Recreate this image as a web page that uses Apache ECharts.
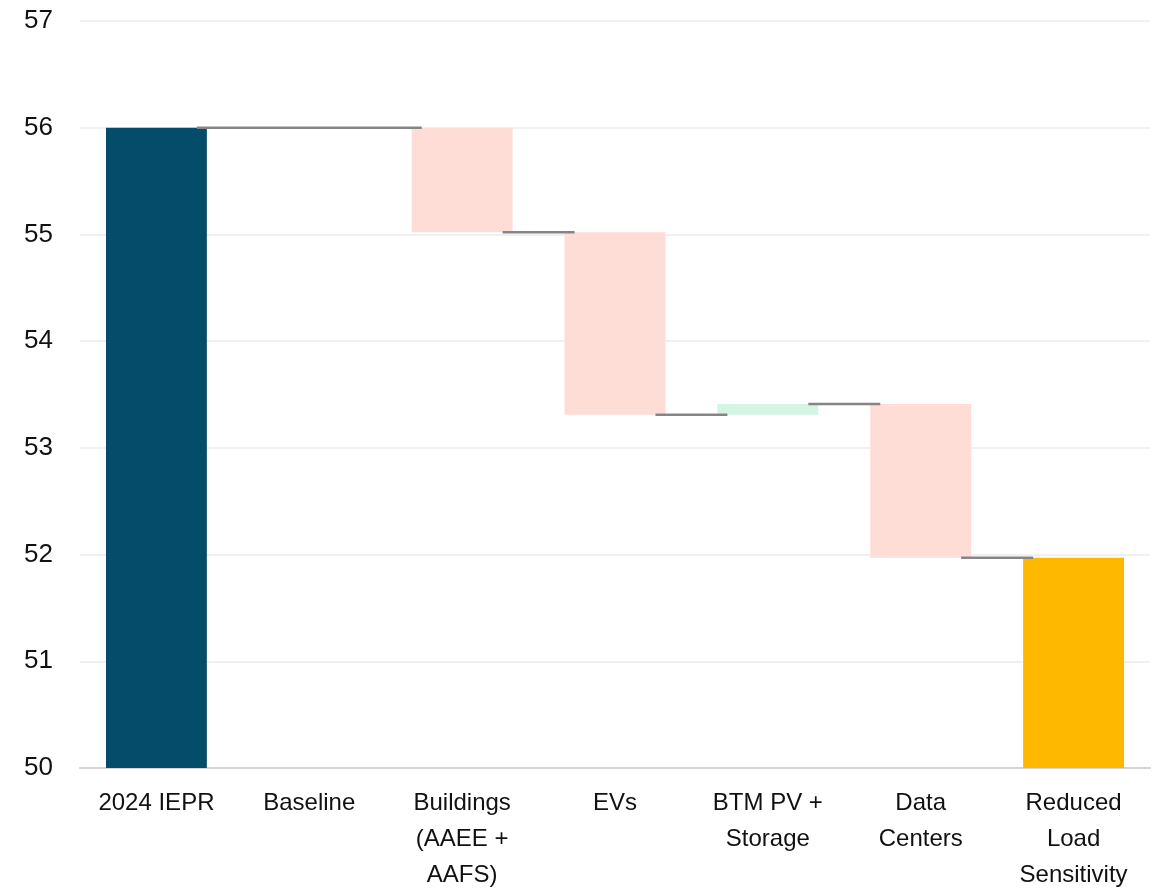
<!DOCTYPE html>
<html>
<head>
<meta charset="utf-8">
<script src="https://cdn.jsdelivr.net/npm/echarts@6/dist/echarts.min.js"></script>
<style>
  html, body { margin: 0; padding: 0; background: #fff; }
  #main { width: 1163px; height: 888px; }
</style>
</head>
<body>
<div id="main"></div>
<script>
// data
var categories = ['2024 IEPR', 'Baseline', 'Buildings\n(AAEE +\nAAFS)', 'EVs', 'BTM PV +\nStorage', 'Data\nCenters', 'Reduced\nLoad\nSensitivity'];
var startTotal = 56.0;
var deltas = [0, -0.98, -1.71, 0.10, -1.44];   // Baseline .. Data Centers
var endTotal = 51.97;
var yTicks = [50, 51, 52, 53, 54, 55, 56, 57];

var totalColors = ['#054c6b', '#ffb800'];
var downColor = '#ffddd7';
var upColor = '#d5f5e3';

// running levels after each category
var levels = [startTotal];
var cur = startTotal;
for (var i = 0; i < deltas.length; i++) {
  cur = Math.round((cur + deltas[i]) * 100) / 100;
  levels.push(cur);
}

var baseData = [0];
var valueData = [{ value: startTotal, itemStyle: { color: totalColors[0] } }];
for (var i = 0; i < deltas.length; i++) {
  var before = levels[i], after = levels[i + 1];
  baseData.push(Math.min(before, after));
  valueData.push({ value: Math.abs(deltas[i]), itemStyle: { color: deltas[i] >= 0 ? upColor : downColor } });
}
baseData.push(0);
valueData.push({ value: endTotal, itemStyle: { color: totalColors[1] } });

// connector lines: [from category, to category, level]; zero steps are passed through
var connData = [];
var from = 0;
for (var i = 1; i < categories.length; i++) {
  var isZero = (i - 1 < deltas.length) && deltas[i - 1] === 0;
  if (isZero) continue;
  connData.push([from, i, levels[from]]);
  from = i;
}

var myChart = echarts.init(document.getElementById('main'));
var option = {
  animation: false,
  grid: { left: 80, right: 13, top: 21, bottom: 120, outerBoundsMode: 'none' },
  xAxis: {
    type: 'category',
    data: categories,
    axisTick: { show: false },
    axisLine: { lineStyle: { color: '#d4d4d4', width: 2 } },
    axisLabel: {
      color: '#111',
      fontSize: 24,
      fontFamily: 'Liberation Sans',
      lineHeight: 36,
      margin: 17,
      interval: 0
    }
  },
  yAxis: {
    type: 'value',
    min: yTicks[0],
    max: yTicks[yTicks.length - 1],
    interval: 1,
    axisLine: { show: false },
    axisTick: { show: false },
    splitLine: { lineStyle: { color: '#ebebeb', width: 1.5 } },
    axisLabel: { color: '#111', fontSize: 26, fontFamily: 'Liberation Sans', margin: 27 }
  },
  series: [
    {
      type: 'bar',
      stack: 'wf',
      data: baseData,
      itemStyle: { color: 'rgba(0,0,0,0)' },
      barCategoryGap: '34%',
      silent: true
    },
    {
      type: 'bar',
      stack: 'wf',
      data: valueData,
      barCategoryGap: '34%'
    },
    {
      type: 'custom',
      data: connData,
      z: 5,
      renderItem: function (params, api) {
        var p0 = api.coord([api.value(0), api.value(2)]);
        var p1 = api.coord([api.value(1), api.value(2)]);
        var band = api.size([1, 0])[0];
        var half = band * 0.66 / 2;
        return {
          type: 'line',
          shape: { x1: p0[0] + half - 10, y1: p0[1], x2: p1[0] - half + 10, y2: p1[1] },
          style: { stroke: '#858585', lineWidth: 2.5 }
        };
      }
    }
  ]
};
myChart.setOption(option);
</script>
</body>
</html>
